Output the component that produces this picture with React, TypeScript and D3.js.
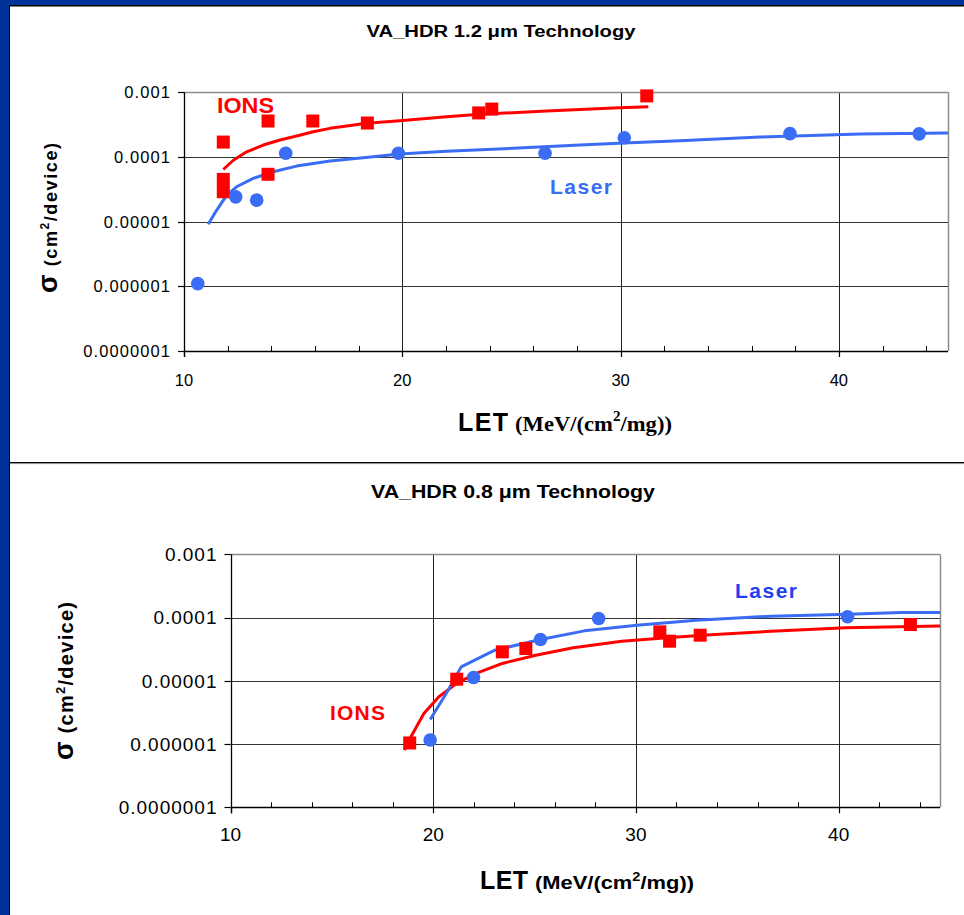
import React from 'react';
import * as d3 from 'd3';

// ---------- shared axis definitions ----------
const yTickValues = [1e-3, 1e-4, 1e-5, 1e-6, 1e-7];
const yTickLabels = ['0.001', '0.0001', '0.00001', '0.000001', '0.0000001'];
const xMajorTicks = [10, 20, 30, 40];
const xMajorLabels = ['10', '20', '30', '40'];
const xMinorTicks = [12, 14, 16, 18, 22, 24, 26, 28, 32, 34, 36, 38, 42, 44];

// ---------- VA_HDR 1.2 um ----------
const topIonsLET = [11.8, 11.8, 11.8, 13.85, 13.85, 15.9, 18.4, 23.5, 24.1, 31.2];
const topIonsSigma = [1.7e-4, 4.5e-5, 2.9e-5, 3.6e-4, 5.4e-5, 3.6e-4, 3.35e-4, 4.8e-4, 5.5e-4, 8.8e-4];
const topLaserLET = [10.63, 12.37, 13.33, 14.66, 19.82, 26.54, 30.17, 37.76, 43.68];
const topLaserSigma = [1.1e-6, 2.42e-5, 2.15e-5, 1.14e-4, 1.14e-4, 1.14e-4, 1.98e-4, 2.3e-4, 2.28e-4];
const topIonsFitLET = [11.8, 12.26, 12.87, 13.63, 14.4, 15.16, 15.92, 16.69, 17.45, 18.37, 19.89, 22.03, 23.56, 26.61, 29.67, 31.27];
const topIonsFitSigma = [6.4e-5, 8.9e-5, 1.2e-4, 1.53e-4, 1.83e-4, 2.11e-4, 2.46e-4, 2.77e-4, 3.01e-4, 3.31e-4, 3.63e-4, 4.19e-4, 4.56e-4, 5.14e-4, 5.71e-4, 6.0e-4];
const topLaserFitLET = [11.11, 11.5, 11.96, 12.41, 13.17, 14.09, 15.16, 16.69, 18.21, 19.89, 22.03, 25.08, 28.14, 30.43, 32.72, 36.39, 40.97, 45];
const topLaserFitSigma = [9.1e-6, 1.51e-5, 2.57e-5, 3.46e-5, 4.67e-5, 5.9e-5, 7.23e-5, 8.65e-5, 9.72e-5, 1.11e-4, 1.23e-4, 1.36e-4, 1.53e-4, 1.66e-4, 1.78e-4, 2.03e-4, 2.26e-4, 2.34e-4];

// ---------- VA_HDR 0.8 um ----------
const botIonsLET = [18.84, 21.16, 23.41, 24.57, 31.18, 31.66, 33.17, 43.54];
const botIonsSigma = [1.04e-6, 1.06e-5, 2.87e-5, 3.24e-5, 5.94e-5, 4.23e-5, 5.26e-5, 7.75e-5];
const botLaserLET = [19.85, 21.99, 25.29, 28.16, 40.44];
const botLaserSigma = [1.16e-6, 1.13e-5, 4.5e-5, 9.64e-5, 1.03e-4];
const botIonsFitLET = [18.58, 18.99, 19.54, 20.28, 21.16, 22.12, 23.41, 25.06, 26.91, 29.3, 31.69, 33.9, 36.67, 40.35, 45.14];
const botIonsFitSigma = [8e-7, 1.47e-6, 3.05e-6, 5.6e-6, 9.1e-6, 1.31e-5, 1.88e-5, 2.54e-5, 3.32e-5, 4.23e-5, 4.83e-5, 5.39e-5, 6.08e-5, 6.87e-5, 7.38e-5];
const botLaserFitLET = [19.85, 20.64, 21.38, 23.04, 25.29, 27.46, 30.04, 32.98, 36.67, 40.44, 43.11, 45.14];
const botLaserFitSigma = [2.45e-6, 6.3e-6, 1.66e-5, 3.05e-5, 4.5e-5, 6.16e-5, 7.56e-5, 9.08e-5, 1.05e-4, 1.13e-4, 1.2e-4, 1.2e-4];

const SANS = "Arial, 'Liberation Sans', Helvetica, sans-serif";
const SERIF = "'Times New Roman', 'Liberation Serif', serif";
const RED = '#ff0000';
const BLUE = '#3a6cf4';

type PanelProps = {
  id: string;
  x0: number; x1: number; y0: number; y1: number;
  tickFont: number; tickSpacing: number; xTickBaseline: number;
  ionsLET: number[]; ionsSigma: number[];
  laserLET: number[]; laserSigma: number[];
  ionsFitLET: number[]; ionsFitSigma: number[];
  laserFitLET: number[]; laserFitSigma: number[];
};

function Panel(p: PanelProps) {
  const x = d3.scaleLinear().domain([10, 45]).range([p.x0, p.x1]);
  const y = d3.scaleLog().domain([1e-7, 1e-3]).range([p.y0, p.y1]);
  const line = d3.line<[number, number]>().x(d => x(d[0])).y(d => y(d[1]));
  const ionsFit = d3.zip(p.ionsFitLET, p.ionsFitSigma) as [number, number][];
  const laserFit = d3.zip(p.laserFitLET, p.laserFitSigma) as [number, number][];
  const sq = 13;
  return (
    <g>
      <defs>
        <clipPath id={p.id}>
          <rect x={p.x0 - 20} y={p.y1 - 20} width={p.x1 - p.x0 + 20} height={p.y0 - p.y1 + 40} />
        </clipPath>
      </defs>
      {yTickValues.slice(1, 4).map(v => (
        <line key={'hg' + v} x1={p.x0} x2={p.x1} y1={Math.round(y(v)) + 0.5} y2={Math.round(y(v)) + 0.5} stroke="#333" strokeWidth={1} />
      ))}
      {xMajorTicks.slice(1).map(v => (
        <line key={'vg' + v} x1={Math.round(x(v)) + 0.5} x2={Math.round(x(v)) + 0.5} y1={p.y1} y2={p.y0} stroke="#222" strokeWidth={1} />
      ))}
      <line x1={p.x0} x2={p.x1} y1={Math.round(p.y1) + 0.5} y2={Math.round(p.y1) + 0.5} stroke="#8c8c8c" strokeWidth={1.5} />
      <line x1={Math.round(p.x1) + 0.5} x2={Math.round(p.x1) + 0.5} y1={p.y1} y2={p.y0} stroke="#8c8c8c" strokeWidth={1.5} />
      <line x1={Math.round(p.x0) + 0.5} x2={Math.round(p.x0) + 0.5} y1={p.y1} y2={p.y0 + 6} stroke="#000" strokeWidth={1.3} />
      <line x1={p.x0} x2={p.x1} y1={Math.round(p.y0) + 0.5} y2={Math.round(p.y0) + 0.5} stroke="#000" strokeWidth={1.3} />
      {yTickValues.map((v, i) => (
        <g key={'yt' + v}>
          <line x1={p.x0 - 6} x2={p.x0} y1={Math.round(y(v)) + 0.5} y2={Math.round(y(v)) + 0.5} stroke="#000" strokeWidth={1.2} />
          <text x={p.x0 - 14 + p.tickSpacing} y={y(v) + p.tickFont * 0.36} textAnchor="end" fontFamily={SANS} fontSize={p.tickFont} letterSpacing={p.tickSpacing} fill="#000">{yTickLabels[i]}</text>
        </g>
      ))}
      {xMajorTicks.map((v, i) => (
        <g key={'xt' + v}>
          <line x1={Math.round(x(v)) + 0.5} x2={Math.round(x(v)) + 0.5} y1={p.y0} y2={p.y0 + 6} stroke="#000" strokeWidth={1.2} />
          <text x={x(v)} y={p.xTickBaseline} textAnchor="middle" fontFamily={SANS} fontSize={p.tickFont} fill="#000">{xMajorLabels[i]}</text>
        </g>
      ))}
      {xMinorTicks.map(v => (
        <line key={'xm' + v} x1={Math.round(x(v)) + 0.5} x2={Math.round(x(v)) + 0.5} y1={p.y0 - 5} y2={p.y0} stroke="#000" strokeWidth={1} />
      ))}
      <g clipPath={`url(#${p.id})`}>
        <path d={line(ionsFit) || ''} fill="none" stroke={RED} strokeWidth={3} strokeLinejoin="round" />
        <path d={line(laserFit) || ''} fill="none" stroke={BLUE} strokeWidth={3} strokeLinejoin="round" />
      </g>
      {p.ionsLET.map((v, i) => (
        <rect key={'is' + i} x={x(v) - sq / 2} y={y(p.ionsSigma[i]) - sq / 2} width={sq} height={sq} fill={RED} />
      ))}
      {p.laserLET.map((v, i) => (
        <circle key={'lc' + i} cx={x(v)} cy={y(p.laserSigma[i])} r={6.8} fill={BLUE} />
      ))}
    </g>
  );
}

export default function App() {
  return (
    <svg width={964} height={915} style={{ position: 'absolute', left: 0, top: 0, display: 'block' }}>
      <rect x={0} y={0} width={964} height={915} fill="#003399" />
      <rect x={9} y={5} width={955} height={910} fill="#000" />
      <rect x={10} y={6.5} width={954} height={909} fill="#fff" />
      <line x1={10} x2={964} y1={462.5} y2={462.5} stroke="#000" strokeWidth={1.2} />
      <line x1={10} x2={964} y1={463.6} y2={463.6} stroke="#888" strokeWidth={1} />

      {/* ---------- top chart ---------- */}
      <text x={501} y={36.5} textAnchor="middle" fontFamily={SANS} fontWeight="bold" fontSize={16} textLength={269} lengthAdjust="spacingAndGlyphs">VA_HDR 1.2 μm Technology</text>
      <Panel id="clipTop" x0={184} x1={948} y0={351} y1={92.3}
        tickFont={16.5} tickSpacing={1.1} xTickBaseline={386}
        ionsLET={topIonsLET} ionsSigma={topIonsSigma}
        laserLET={topLaserLET} laserSigma={topLaserSigma}
        ionsFitLET={topIonsFitLET} ionsFitSigma={topIonsFitSigma}
        laserFitLET={topLaserFitLET} laserFitSigma={topLaserFitSigma} />
      <text x={217} y={113} fontFamily={SANS} fontWeight="bold" fontSize={22} fill={RED} textLength={57} lengthAdjust="spacingAndGlyphs">IONS</text>
      <text x={550} y={194} fontFamily={SANS} fontWeight="bold" fontSize={21} fill={BLUE} textLength={62}>Laser</text>
      <text transform="translate(57,218) rotate(-90)" textAnchor="middle" fontFamily={SANS} fontWeight="bold" fontSize={18} fill="#000" textLength={150}>
        <tspan fontSize={27}>σ</tspan><tspan> (cm</tspan><tspan dy={-8} fontSize={12}>2</tspan><tspan dy={8}>/device)</tspan>
      </text>
      <text x={458} y={431} fontFamily={SANS} fontWeight="bold" fontSize={25} fill="#000" textLength={50}>LET</text>
      <text x={515} y={431} fontFamily={SERIF} fontWeight="bold" fontSize={21} fill="#000" textLength={157} lengthAdjust="spacingAndGlyphs">
        <tspan>(MeV/(cm</tspan><tspan dy={-10} fontSize={14}>2</tspan><tspan dy={10}>/mg))</tspan>
      </text>

      {/* ---------- bottom chart ---------- */}
      <text x={513} y={498} textAnchor="middle" fontFamily={SANS} fontWeight="bold" fontSize={17.5} textLength={284} lengthAdjust="spacingAndGlyphs">VA_HDR 0.8 μm Technology</text>
      <Panel id="clipBot" x0={230.5} x1={940} y0={807.3} y1={554.3}
        tickFont={19} tickSpacing={1} xTickBaseline={841}
        ionsLET={botIonsLET} ionsSigma={botIonsSigma}
        laserLET={botLaserLET} laserSigma={botLaserSigma}
        ionsFitLET={botIonsFitLET} ionsFitSigma={botIonsFitSigma}
        laserFitLET={botLaserFitLET} laserFitSigma={botLaserFitSigma} />
      <text x={330} y={720} fontFamily={SANS} fontWeight="bold" fontSize={21} fill={RED} textLength={55}>IONS</text>
      <text x={735} y={598} fontFamily={SANS} fontWeight="bold" fontSize={21} fill="#1f3ff0" textLength={62}>Laser</text>
      <text transform="translate(73,681) rotate(-90)" textAnchor="middle" fontFamily={SANS} fontWeight="bold" fontSize={20} fill="#000" textLength={158}>
        <tspan fontSize={27}>σ</tspan><tspan> (cm</tspan><tspan dy={-8} fontSize={13}>2</tspan><tspan dy={8}>/device)</tspan>
      </text>
      <text x={480} y={889} fontFamily={SANS} fontWeight="bold" fontSize={25} fill="#000" textLength={48}>LET</text>
      <text x={535} y={889} fontFamily={SANS} fontWeight="bold" fontSize={18} fill="#000" textLength={159} lengthAdjust="spacingAndGlyphs">
        <tspan>(MeV/(cm</tspan><tspan dy={-8} fontSize={12}>2</tspan><tspan dy={8}>/mg))</tspan>
      </text>
    </svg>
  );
}
